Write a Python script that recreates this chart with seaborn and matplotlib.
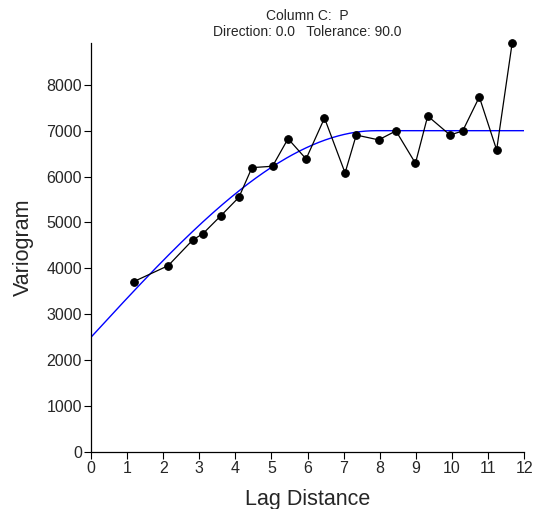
import numpy as np
import pandas as pd
import matplotlib
matplotlib.use("Agg")
import matplotlib.pyplot as plt
import seaborn as sns

# Experimental variogram: lag distance and semivariance
lag = [1.18, 2.14, 2.82, 3.10, 3.59, 4.10, 4.46, 5.03, 5.46, 5.96, 6.47,
       7.04, 7.35, 7.97, 8.45, 8.99, 9.33, 9.95, 10.30, 10.76, 11.24, 11.67]
gamma = [3710, 4060, 4620, 4755, 5140, 5550, 6195, 6225, 6825, 6385, 7275,
         6080, 6905, 6800, 6995, 6290, 7320, 6905, 6995, 7735, 6580, 8910]

# Spherical model parameters
nugget = 2500.0
sill = 7000.0
model_range = 7.9

x_ticks = list(range(0, 13))
y_ticks = list(range(0, 9000, 1000))


def spherical(h):
    r = np.clip(h / model_range, 0, 1)
    return nugget + (sill - nugget) * (1.5 * r - 0.5 * r ** 3)


h = np.linspace(0, 12, 400)
model_df = pd.DataFrame({"lag": h, "gamma": spherical(h)})
exp_df = pd.DataFrame({"lag": lag, "gamma": gamma})

sns.set_theme(style="white")
plt.rcParams["font.family"] = ["Liberation Sans", "DejaVu Sans"]

fig = plt.figure(figsize=(5.34, 5.09), dpi=100)
ax = fig.add_axes([0.1704, 0.112, 0.811, 0.8035])

sns.lineplot(data=model_df, x="lag", y="gamma", ax=ax, color="#0000ff",
             linewidth=1.0, zorder=2)
sns.lineplot(data=exp_df, x="lag", y="gamma", ax=ax, color="black",
             linewidth=0.9, marker="o", markersize=5.5,
             markeredgecolor="black", markerfacecolor="black", zorder=3,
             clip_on=False)

ax.set_xlim(0, 12)
ax.set_ylim(0, max(gamma))
ax.set_xticks(x_ticks)
ax.set_yticks(y_ticks)
ax.tick_params(axis="both", which="major", direction="out", length=5,
               width=0.8, color="black", labelsize=11.5, pad=1.5,
               bottom=True, left=True)
for side in ("top", "right"):
    ax.spines[side].set_visible(False)
for side in ("left", "bottom"):
    ax.spines[side].set_color("black")
    ax.spines[side].set_linewidth(0.9)

ax.set_xlabel("Lag Distance", fontsize=15.5, labelpad=9)
ax.set_ylabel("Variogram", fontsize=15.5, labelpad=9)
ax.set_title("Column C:  P\nDirection: 0.0   Tolerance: 90.0",
             fontsize=10, linespacing=1.15, pad=5)

fig.savefig("out.png", dpi=100)
